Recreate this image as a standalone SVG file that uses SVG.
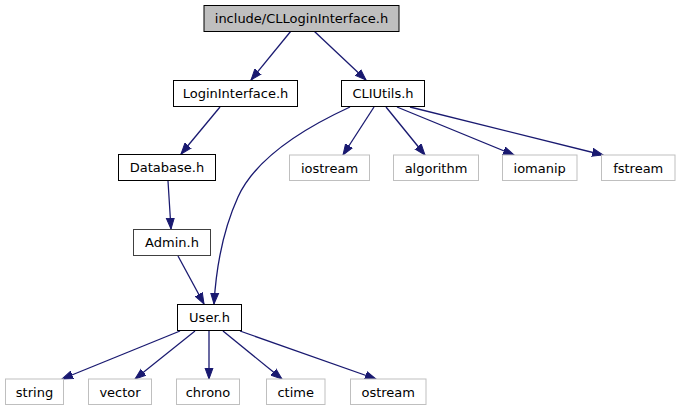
<svg xmlns="http://www.w3.org/2000/svg" width="681" height="411" viewBox="0 0 681 411">
<style>
.n rect{fill:#fff;stroke:#000;stroke-width:1}
.x rect{fill:#fff;stroke:#bfbfbf;stroke-width:1}
text{font-family:"DejaVu Sans",sans-serif;font-size:13px;text-anchor:middle;fill:#000}
.e path{fill:none;stroke:#191970;stroke-width:1.3;marker-end:url(#a)}
</style>
<defs>
<marker id="a" markerUnits="userSpaceOnUse" markerWidth="12" markerHeight="10" refX="11" refY="4.5" orient="auto" viewBox="0 0 12 9">
<path d="M0,0.5 L11,4.5 L0,8.5 Z" fill="#191970" stroke="#191970"/>
</marker>
</defs>
<g class="e" id="edges">
<path d="M291,31 L251,80"/>
<path d="M314,31 L366,80"/>
<path d="M220,107 L181,154"/>
<path d="M168,181 L171,229"/>
<path d="M178,256 L204,304"/>
<path d="M350,107 C300,130 255,160 238,197 C223,230 216,270 214,304"/>
<path d="M374,107 L343,155"/>
<path d="M386,107 L425,155"/>
<path d="M397,107 L514,155"/>
<path d="M410,107 L603,155"/>
<path d="M180,331 L62,379"/>
<path d="M195,331 L135,379"/>
<path d="M209,331 L209,379"/>
<path d="M223,331 L282,379"/>
<path d="M240,331 L376,379"/>
</g>
<g id="CLLoginInterface" class="n"><rect x="204" y="5.5" width="195" height="26" style="fill:#bfbfbf"/><text x="301.5" y="23">include/CLLoginInterface.h</text></g>
<g id="LoginInterface" class="n"><rect x="173.5" y="80.5" width="124" height="26"/><text x="235.5" y="98">LoginInterface.h</text></g>
<g id="CLIUtils" class="n"><rect x="341.5" y="80.5" width="83" height="26"/><text x="383" y="98">CLIUtils.h</text></g>
<g id="Database" class="n"><rect x="118.5" y="154.5" width="97" height="26"/><text x="167" y="172">Database.h</text></g>
<g id="Admin" class="n"><rect x="133.5" y="229.5" width="77" height="26" style="stroke:#404040"/><text x="172" y="247">Admin.h</text></g>
<g id="iostream" class="x"><rect x="289.5" y="155" width="80" height="25.5"/><text x="329.5" y="172.5">iostream</text></g>
<g id="algorithm" class="x"><rect x="393.5" y="155" width="85" height="25.5"/><text x="436" y="172.5">algorithm</text></g>
<g id="iomanip" class="x"><rect x="502.5" y="155" width="74.5" height="25.5"/><text x="539.7" y="172.5">iomanip</text></g>
<g id="fstream" class="x"><rect x="601.5" y="155" width="73.5" height="25.5"/><text x="638.2" y="172.5">fstream</text></g>
<g id="User" class="n"><rect x="177.5" y="304.5" width="64" height="26"/><text x="209.5" y="322">User.h</text></g>
<g id="string" class="x"><rect x="5.5" y="379" width="58" height="25.5"/><text x="34.5" y="396.5">string</text></g>
<g id="vector" class="x"><rect x="88.5" y="379" width="63" height="25.5"/><text x="120" y="396.5">vector</text></g>
<g id="chrono" class="x"><rect x="176.5" y="379" width="63" height="25.5"/><text x="208" y="396.5">chrono</text></g>
<g id="ctime" class="x"><rect x="266.5" y="379" width="58.5" height="25.5"/><text x="295.7" y="396.5">ctime</text></g>
<g id="ostream" class="x"><rect x="350.5" y="379" width="75.5" height="25.5"/><text x="388.2" y="396.5">ostream</text></g>
</svg>
